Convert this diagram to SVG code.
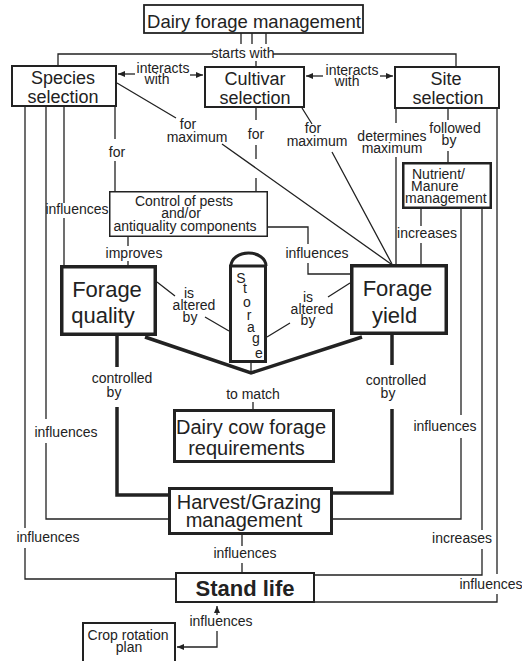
<svg xmlns="http://www.w3.org/2000/svg" width="522" height="661" viewBox="0 0 522 661">
<style>
.bx{fill:#fff;stroke:#222}
.t{font-family:"Liberation Sans",Arial,sans-serif;fill:#222}
.m{text-anchor:middle}
.l{font-size:14px;text-anchor:middle}
.c{stroke:#222;stroke-width:1.3;fill:none}
.k{stroke:#222;stroke-width:3.5;fill:none}
</style>
<defs>
<marker id="ah" markerWidth="7" markerHeight="6" refX="7" refY="3" orient="auto" markerUnits="userSpaceOnUse"><path d="M0,0 L7,3 L0,6 Z" fill="#222"/></marker>
</defs>
<rect width="522" height="661" fill="#fff"/>
<g id="connectors">
<path class="c" d="M241,33V44M252,33V44M266,33V44M58,65V54H213M273,54H456V66M256,61V66"/>
<path class="c" d="M135,74H118" marker-end="url(#ah)"/>
<path class="c" d="M190,75H203" marker-end="url(#ah)"/>
<path class="c" d="M323,76H306" marker-end="url(#ah)"/>
<path class="c" d="M380,76H393" marker-end="url(#ah)"/>
<path class="c" d="M25,107V528M25,548V579H176M46,107V419M46,443V519H168M64,107V203M64,218V265M115,107V139M115,161V191"/>
<path class="c" d="M117,83L176,118M222,144L391,264"/>
<path class="c" d="M256,108V120M256,145V159M256,178V191M302,108L312,124M332,152L392,264"/>
<path class="c" d="M396,109V123M396,157V264M448,109V120M448,151V162M497,109V574M497,594V602H315"/>
<path class="c" d="M421,209V226M421,243V264M461,209V415M461,438V519H333M482,209V530M482,549V575H315"/>
<path class="c" d="M268,227H308V244M308,263V274H350M128,237V246M128,261V265"/>
<path class="c" d="M157,282L175,296M205,317L229,331M350,283L328,297M290,323L267,337"/>
<path class="k" d="M117,336V367M117,407V495H168M392,335V365M392,409V493H333"/>
<path class="k" stroke-width="4" d="M145,337L251,373L362,337" style="stroke-linejoin:miter"/>
<path class="c" stroke-width="2.5" d="M251,363V373"/>
<path class="c" d="M253,402V409M242,535V546M242,563V572"/>
<path class="c" d="M217,615V606" marker-end="url(#ah)"/>
<path class="c" d="M217,631V647H177" marker-end="url(#ah)"/>
<g class="t l">
<text x="243" y="58">starts with</text>
<text x="163" y="73">interacts</text>
<text x="157" y="84">with</text>
<text x="352" y="75">interacts</text>
<text x="347" y="86">with</text>
<text x="117" y="157">for</text>
<text x="77" y="214">influences</text>
<text x="66" y="437">influences</text>
<text x="48" y="542">influences</text>
<text x="188" y="129">for</text>
<text x="197" y="142">maximum</text>
<text x="256" y="139">for</text>
<text x="313" y="133">for</text>
<text x="317" y="146">maximum</text>
<text x="392" y="141">determines</text>
<text x="392" y="153">maximum</text>
<text x="455" y="133">followed</text>
<text x="449" y="145">by</text>
<text x="427" y="238">increases</text>
<text x="445" y="431">influences</text>
<text x="462" y="543">increases</text>
<text x="491" y="589">influences</text>
<text x="317" y="258">influences</text>
<text x="134" y="258">improves</text>
<text x="189" y="298">is</text>
<text x="194" y="310">altered</text>
<text x="190" y="322">by</text>
<text x="308" y="302">is</text>
<text x="312" y="314">altered</text>
<text x="308" y="325">by</text>
<text x="122" y="383">controlled</text>
<text x="114" y="397">by</text>
<text x="396" y="385">controlled</text>
<text x="388" y="398">by</text>
<text x="253" y="399">to match</text>
<text x="245" y="558">influences</text>
<text x="221" y="626">influences</text>
</g>
</g>
<g id="dairy-forage-management">
<rect class="bx" x="144" y="5" width="219" height="28" stroke-width="1.8"/>
<text class="t m" x="254" y="28" font-size="18.5">Dairy forage management</text>
</g>
<g id="species-selection">
<rect class="bx" x="12" y="66" width="104" height="40" stroke-width="2"/>
<text class="t m" x="63" y="84" font-size="18">Species</text>
<text class="t m" x="63" y="103" font-size="18">selection</text>
</g>
<g id="cultivar-selection">
<rect class="bx" x="205" y="67" width="99" height="40" stroke-width="2"/>
<text class="t m" x="255" y="85" font-size="18">Cultivar</text>
<text class="t m" x="255" y="104" font-size="18">selection</text>
</g>
<g id="site-selection">
<rect class="bx" x="395" y="67" width="104" height="41" stroke-width="2"/>
<text class="t m" x="446" y="85" font-size="18">Site</text>
<text class="t m" x="448" y="104" font-size="18">selection</text>
</g>
<g id="nutrient-manure">
<rect class="bx" x="403.25" y="163.25" width="87.5" height="44.5" stroke-width="2.5"/>
<text class="t" x="412" y="179" font-size="14">Nutrient/</text>
<text class="t" x="411" y="191" font-size="14">Manure</text>
<text class="t" x="405" y="203" font-size="14">management</text>
</g>
<g id="control-pests">
<rect class="bx" x="109.75" y="191.75" width="157.5" height="44.5" stroke-width="1.5"/>
<text class="t m" x="184" y="206" font-size="14">Control of pests</text>
<text class="t m" x="181" y="218" font-size="14">and/or</text>
<text class="t m" x="185" y="231" font-size="14">antiquality components</text>
</g>
<g id="forage-quality">
<rect class="bx" x="61.75" y="266.75" width="93.5" height="67.5" stroke-width="3.5"/>
<text class="t m" x="107" y="297" font-size="22">Forage</text>
<text class="t m" x="103" y="323" font-size="22">quality</text>
</g>
<g id="forage-yield">
<rect class="bx" x="351.75" y="265.75" width="94.5" height="67.5" stroke-width="3.5"/>
<text class="t m" x="397.5" y="296" font-size="22">Forage</text>
<text class="t m" x="394.5" y="323" font-size="22">yield</text>
</g>
<g id="storage">
<path class="bx" stroke-width="3" d="M231,266A17.5,13 0 0 1 266,266"/>
<rect class="bx" x="230.5" y="266" width="35" height="95.5" stroke-width="3"/>
<g class="t m" font-size="14">
<text x="241" y="283">S</text>
<text x="245" y="293">t</text>
<text x="247" y="307">o</text>
<text x="249" y="320">r</text>
<text x="251" y="332">a</text>
<text x="256" y="343">g</text>
<text x="259" y="358">e</text>
</g>
</g>
<g id="dairy-cow-requirements">
<rect class="bx" x="174.5" y="410.5" width="159" height="51" stroke-width="3"/>
<text class="t m" x="251" y="434" font-size="20">Dairy cow forage</text>
<text class="t m" x="246.5" y="455" font-size="20">requirements</text>
</g>
<g id="harvest-grazing">
<rect class="bx" x="169.5" y="488.5" width="162" height="45" stroke-width="3"/>
<text class="t m" x="249" y="509" font-size="20">Harvest/Grazing</text>
<text class="t m" x="244" y="527" font-size="20">management</text>
</g>
<g id="stand-life">
<rect class="bx" x="176" y="573" width="138" height="29" stroke-width="2"/>
<text class="t m" x="245" y="596" font-size="22" font-weight="bold">Stand life</text>
</g>
<g id="crop-rotation">
<rect class="bx" x="83" y="623" width="92" height="45" stroke-width="2"/>
<text class="t m" x="128" y="640" font-size="14">Crop rotation</text>
<text class="t m" x="129" y="652" font-size="14">plan</text>
</g>
</svg>
